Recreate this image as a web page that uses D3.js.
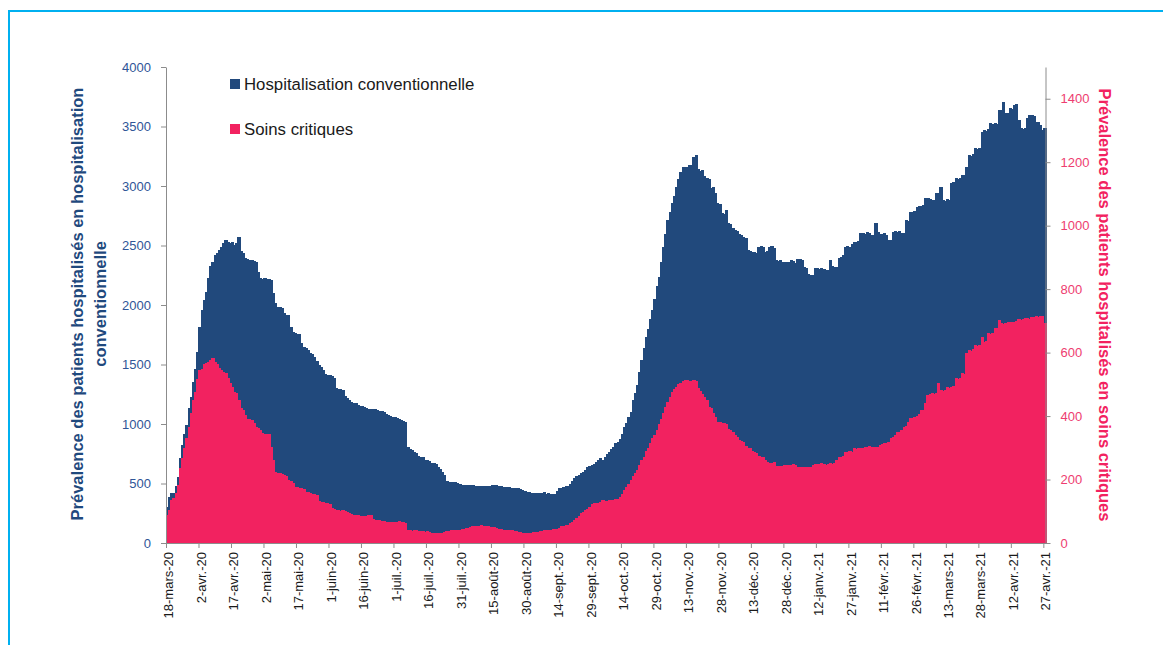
<!DOCTYPE html>
<html>
<head>
<meta charset="utf-8">
<script src="https://cdn.jsdelivr.net/npm/d3@7"></script>
<style>
  body { margin: 0; background: #fff; }
  svg text { font-family: "Liberation Sans", Arial, sans-serif; }
</style>
</head>
<body>
<svg id="chart" width="1163" height="645"></svg>
<script>
// one value per day, 18-mars-20 -> 27-avr.-21 (rows of 15 days)
const hospConv = [
  305, 389, 423, 418, 479, 557, 711, 823, 916, 992, 1132, 1229, 1355, 1459, 1607,
  1818, 1958, 2042, 2112, 2224, 2328, 2364, 2420, 2439, 2462, 2490, 2523, 2546, 2532, 2523,
  2532, 2504, 2523, 2574, 2456, 2434, 2392, 2384, 2378, 2378, 2370, 2365, 2280, 2224, 2216,
  2224, 2222, 2220, 2210, 2098, 2014, 1985, 1979, 1975, 1930, 1920, 1915, 1818, 1770, 1762,
  1760, 1755, 1678, 1650, 1640, 1622, 1600, 1590, 1560, 1530, 1500, 1475, 1452, 1420, 1412,
  1410, 1405, 1390, 1300, 1295, 1290, 1285, 1232, 1215, 1200, 1187, 1180, 1175, 1160, 1155,
  1150, 1145, 1138, 1130, 1125, 1130, 1126, 1120, 1112, 1110, 1098, 1080, 1072, 1070, 1062,
  1055, 1048, 1046, 1030, 1025, 1020, 809, 790, 780, 765, 755, 730, 725, 720, 700,
  697, 690, 675, 670, 665, 640, 620, 600, 571, 520, 515, 515, 512, 510, 508,
  495, 490, 488, 487, 486, 485, 484, 483, 482, 480, 480, 479, 478, 478, 479,
  487, 486, 485, 483, 478, 473, 470, 472, 468, 465, 463, 462, 460, 455, 445,
  440, 432, 428, 422, 420, 418, 418, 416, 420, 425, 415, 418, 412, 410, 412,
  440, 459, 465, 470, 479, 480, 500, 520, 543, 560, 575, 585, 600, 615, 636,
  645, 655, 660, 680, 700, 711, 697, 720, 745, 767, 790, 810, 838, 850, 870,
  920, 977, 1010, 1060, 1103, 1200, 1260, 1328, 1440, 1538, 1640, 1734, 1800, 1880, 1958,
  2050, 2160, 2238, 2360, 2490, 2600, 2714, 2780, 2855, 2920, 2994, 3060, 3120, 3162, 3160,
  3162, 3176, 3180, 3246, 3260, 3140, 3130, 3134, 3080, 3065, 3060, 2980, 2990, 2939, 2855,
  2850, 2770, 2765, 2800, 2686, 2680, 2650, 2630, 2620, 2600, 2590, 2570, 2560, 2462, 2455,
  2448, 2445, 2440, 2490, 2495, 2485, 2448, 2450, 2490, 2495, 2480, 2378, 2370, 2375, 2364,
  2360, 2365, 2362, 2380, 2370, 2355, 2384, 2390, 2380, 2322, 2310, 2260, 2252, 2250, 2308,
  2310, 2305, 2308, 2300, 2294, 2290, 2378, 2330, 2322, 2320, 2392, 2400, 2420, 2490, 2495,
  2490, 2510, 2532, 2530, 2540, 2602, 2605, 2600, 2610, 2602, 2588, 2585, 2686, 2610, 2600,
  2595, 2602, 2590, 2546, 2550, 2616, 2620, 2615, 2618, 2605, 2602, 2714, 2710, 2784, 2780,
  2790, 2826, 2830, 2828, 2840, 2896, 2900, 2890, 2882, 2885, 2939, 2940, 2994, 2882, 2870,
  2890, 2882, 3022, 3030, 3065, 3060, 3070, 3092, 3095, 3162, 3260, 3255, 3270, 3316, 3310,
  3320, 3456, 3470, 3465, 3475, 3526, 3520, 3530, 3525, 3638, 3640, 3708, 3610, 3615, 3652,
  3650, 3680, 3685, 3554, 3484, 3480, 3490, 3568, 3596, 3600, 3590, 3540, 3535, 3512, 3470,
  3490
];

const soinsCritiques = [
  88, 104, 135, 141, 157, 183, 235, 267, 298, 330, 366, 409, 451, 477, 516,
  545, 547, 564, 566, 571, 577, 582, 571, 564, 550, 545, 540, 535, 519, 503,
  492, 477, 472, 451, 424, 419, 403, 390, 390, 388, 377, 366, 361, 356, 348,
  345, 345, 343, 303, 261, 225, 222, 220, 219, 215, 210, 198, 196, 190, 178,
  176, 174, 172, 170, 162, 160, 157, 155, 154, 150, 132, 129, 128, 127, 125,
  122, 110, 106, 104, 104, 102, 103, 100, 98, 96, 90, 88, 88, 87, 86,
  86, 85, 84, 88, 87, 75, 74, 72, 72, 70, 68, 67, 67, 66, 67,
  66, 67, 68, 66, 65, 64, 41, 40, 39, 42, 40, 38, 37, 39, 36,
  37, 35, 33, 32, 31, 30, 31, 33, 35, 38, 39, 40, 41, 40, 41,
  42, 44, 45, 46, 48, 50, 52, 53, 54, 55, 56, 54, 53, 52, 51,
  50, 49, 47, 45, 44, 42, 41, 41, 40, 40, 39, 38, 36, 35, 33,
  31, 31, 32, 33, 34, 35, 36, 38, 39, 40, 41, 40, 42, 43, 44,
  45, 48, 52, 55, 57, 58, 62, 66, 72, 78, 86, 95, 99, 103, 106,
  115, 122, 125, 125, 127, 130, 136, 133, 132, 135, 134, 136, 138, 140, 145,
  155, 167, 175, 185, 198, 210, 220, 230, 245, 260, 272, 290, 300, 314, 330,
  340, 356, 375, 390, 409, 430, 445, 461, 475, 485, 492, 500, 505, 510, 514,
  515, 512, 510, 514, 510, 487, 480, 470, 461, 450, 430, 424, 410, 398, 382,
  380, 377, 377, 375, 360, 356, 350, 340, 335, 325, 320, 318, 305, 300, 298,
  290, 288, 285, 275, 272, 270, 262, 255, 251, 252, 255, 243, 242, 244, 243,
  246, 245, 247, 246, 248, 246, 240, 241, 240, 238, 240, 239, 241, 245, 248,
  249, 250, 251, 250, 245, 248, 252, 250, 251, 260, 272, 270, 275, 288, 288,
  290, 288, 298, 297, 299, 298, 300, 303, 302, 305, 303, 302, 304, 303, 310,
  312, 314, 316, 318, 330, 335, 340, 351, 350, 355, 366, 368, 380, 393, 395,
  398, 400, 405, 419, 420, 440, 466, 468, 472, 470, 473, 503, 482, 480, 482,
  493, 490, 493, 495, 519, 518, 520, 535, 533, 598, 608, 606, 610, 624, 622,
  625, 650, 634, 636, 661, 660, 663, 677, 678, 703, 692, 690, 692, 696, 695,
  698, 696, 700, 705, 702, 706, 708, 710, 706, 713, 712, 715, 713, 715, 716,
  692
];

// one label every 15 days
const tickLabels = [
  "18-mars-20", "2-avr.-20", "17-avr.-20", "2-mai-20", "17-mai-20", "1-juin-20",
  "16-juin-20", "1-juil.-20", "16-juil.-20", "31-juil.-20", "15-août-20", "30-août-20",
  "14-sept.-20", "29-sept.-20", "14-oct.-20", "29-oct.-20", "13-nov.-20", "28-nov.-20",
  "13-déc.-20", "28-déc.-20", "12-janv.-21", "27-janv.-21", "11-févr.-21", "26-févr.-21",
  "13-mars-21", "28-mars-21", "12-avr.-21", "27-avr.-21"
];

const seriesNames = ["Hospitalisation conventionnelle", "Soins critiques"];

const blue = "#21497c",
  pink = "#f22260",
  axisGrey = "#8c8c8c";

const plotLeft = 166, plotRight = 1045.5, plotTop = 67, plotBottom = 543;

const svg = d3.select("#chart");

// light blue frame
svg.append("rect")
  .attr("x", 9).attr("y", 11)
  .attr("width", 1170).attr("height", 660)
  .attr("fill", "none")
  .attr("stroke", "#00b0f0")
  .attr("stroke-width", 2);

const x = d3.scaleBand()
  .domain(d3.range(hospConv.length))
  .range([plotLeft, plotRight])
  .padding(0);

const xEdge = d3.scaleLinear()
  .domain([0, hospConv.length])
  .range([plotLeft, plotRight]);

const yLeft = d3.scaleLinear().domain([0, 4000]).range([plotBottom, plotTop]);
const yRight = d3.scaleLinear().domain([0, 1500]).range([plotBottom, plotTop]);

// bars (slightly widened so neighbours overlap, no seams)
svg.append("g")
  .attr("shape-rendering", "crispEdges")
  .selectAll("rect")
  .data(hospConv)
  .join("rect")
    .attr("x", (d, i) => x(i))
    .attr("width", x.bandwidth() + 1)
    .attr("y", d => yLeft(d))
    .attr("height", d => plotBottom - yLeft(d))
    .attr("fill", blue);

svg.append("g")
  .attr("shape-rendering", "crispEdges")
  .selectAll("rect")
  .data(soinsCritiques)
  .join("rect")
    .attr("x", (d, i) => x(i))
    .attr("width", x.bandwidth() + 1)
    .attr("y", d => yRight(d))
    .attr("height", d => plotBottom - yRight(d))
    .attr("fill", pink);

// left axis
const gLeft = svg.append("g")
  .attr("transform", `translate(${plotLeft},0)`)
  .call(d3.axisLeft(yLeft).tickValues(d3.range(0, 4001, 500)).tickFormat(d3.format("d"))
    .tickSize(5).tickSizeOuter(0).tickPadding(10));
gLeft.selectAll("path, line").attr("stroke", axisGrey);
gLeft.selectAll("text").attr("fill", "#2f5597").style("font-size", "13px");

// right axis
const gRight = svg.append("g")
  .attr("transform", `translate(${plotRight},0)`)
  .call(d3.axisRight(yRight).tickValues(d3.range(0, 1401, 200)).tickFormat(d3.format("d"))
    .tickSize(5).tickSizeOuter(0).tickPadding(10));
gRight.selectAll("path, line").attr("stroke", axisGrey);
gRight.selectAll("text").attr("fill", "#ee3d70").style("font-size", "13px");

// x axis, ticks between categories
const tickIdx = tickLabels.map((t, i) => i * 15);
const gX = svg.append("g")
  .attr("transform", `translate(0,${plotBottom})`)
  .call(d3.axisBottom(xEdge).tickValues(tickIdx).tickFormat((d, i) => tickLabels[i]).tickSize(5).tickSizeOuter(0));
gX.selectAll("path, line").attr("stroke", axisGrey);
gX.selectAll("text")
  .attr("fill", "#1a1a1a")
  .style("font-size", "13px")
  .attr("text-anchor", "end")
  .attr("x", 0).attr("y", 0).attr("dy", "0.35em")
  .attr("transform", `translate(${x.bandwidth() / 2 + 1},9) rotate(-90)`);

// axis titles
const leftTitle = svg.append("text")
  .attr("transform", "translate(77,304) rotate(-90)")
  .attr("text-anchor", "middle")
  .attr("fill", "#1f497d")
  .style("font-size", "16.5px")
  .style("font-weight", "bold");
leftTitle.append("tspan").attr("x", 0).attr("dy", "0.35em")
  .text("Prévalence des patients hospitalisés en hospitalisation");
leftTitle.append("tspan").attr("x", 0).attr("dy", "1.4em")
  .text("conventionnelle");

svg.append("text")
  .attr("transform", "translate(1105,305) rotate(90)")
  .attr("text-anchor", "middle")
  .attr("dy", "0.35em")
  .attr("fill", pink)
  .style("font-size", "16.5px")
  .style("font-weight", "bold")
  .text("Prévalence des patients hospitalisés en soins critiques");

// legend
const legend = svg.append("g")
  .selectAll("g")
  .data(seriesNames)
  .join("g")
    .attr("transform", (d, i) => `translate(230,${79 + i * 45})`);
legend.append("rect")
  .attr("width", 10).attr("height", 10)
  .attr("fill", (d, i) => i === 0 ? blue : pink);
legend.append("text")
  .attr("x", 14).attr("y", 5).attr("dy", "0.35em")
  .attr("fill", "#1a1a1a")
  .style("font-size", "16.8px")
  .text(d => d);
</script>
</body>
</html>
